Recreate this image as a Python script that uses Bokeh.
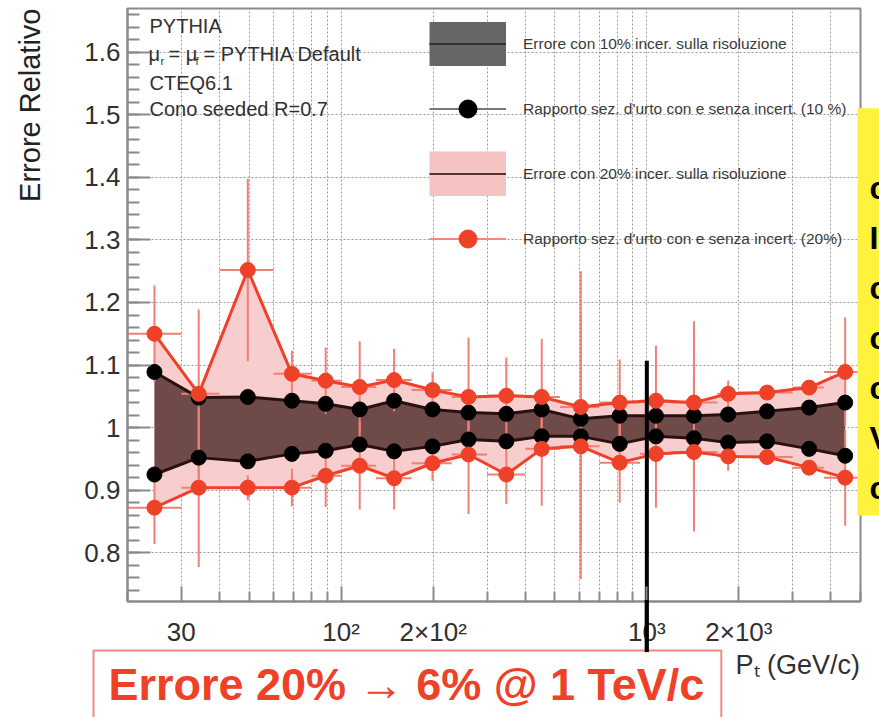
import numpy as np
from bokeh.plotting import figure
from bokeh.models import FixedTicker, Label, Legend, LegendItem, Title
from bokeh.embed import file_html
from bokeh.resources import INLINE

# ---------------- data ----------------
pt_edges = [20, 30, 40, 60, 80, 100, 130, 170, 230, 300, 400, 520, 700, 950,
            1200, 1700, 2000, 3000, 3800, 5000]
pt_centers = [24.5, 34.2, 49.5, 69, 89, 115, 149, 199, 261, 347, 453, 608, 815,
              1071, 1426, 1845, 2473, 3396, 4455]
blk_hi = [1.089, 1.048, 1.049, 1.043, 1.038, 1.029, 1.043, 1.029, 1.024, 1.022,
          1.029, 1.014, 1.019, 1.019, 1.019, 1.021, 1.026, 1.032, 1.040]
blk_lo = [0.925, 0.952, 0.946, 0.958, 0.963, 0.973, 0.962, 0.970, 0.981, 0.978,
          0.986, 0.986, 0.974, 0.986, 0.983, 0.976, 0.978, 0.966, 0.955]
red_hi = [1.150, 1.054, 1.252, 1.086, 1.075, 1.065, 1.076, 1.060, 1.049, 1.051,
          1.049, 1.033, 1.040, 1.043, 1.040, 1.054, 1.056, 1.064, 1.089]
red_lo = [0.872, 0.904, 0.904, 0.904, 0.923, 0.939, 0.919, 0.943, 0.957, 0.925,
          0.966, 0.970, 0.944, 0.958, 0.961, 0.954, 0.953, 0.936, 0.920]
red_hi_err = [0.077, 0.135, 0.146, 0.037, 0.053, 0.073, 0.050, 0.028, 0.095, 0.061,
              0.093, 0.217, 0.069, 0.088, 0.130, 0.021, 0.010, 0.010, 0.087]
red_lo_err = [0.058, 0.127, 0.020, 0.030, 0.050, 0.070, 0.050, 0.028, 0.095, 0.047,
              0.091, 0.212, 0.064, 0.086, 0.127, 0.023, 0.010, 0.010, 0.077]

x_major = [30, 100, 200, 1000, 2000]
x_labels = {30: "30", 100: "10\u00b2", 200: "2\u00d710\u00b2", 1000: "10\u00b3", 2000: "2\u00d710\u00b3"}
x_minor = [20, 40, 50, 60, 70, 80, 90, 300, 400, 500, 600, 700, 800, 900, 3000, 4000, 5000]
y_major = [0.8, 0.9, 1.0, 1.1, 1.2, 1.3, 1.4, 1.5, 1.6]
y_labels = {0.8: "0.8", 0.9: "0.9", 1.0: "1", 1.1: "1.1", 1.2: "1.2", 1.3: "1.3",
            1.4: "1.4", 1.5: "1.5", 1.6: "1.6"}
X_LO, X_HI = 20, 5000
Y_LO, Y_HI = 0.722, 1.67

marker_pt = 1000      # vertical marker at 1 TeV/c
marker_top = 1.107

legend_labels = ["Errore con 10% incer. sulla risoluzione",
                 "Rapporto sez. d'urto con e senza incert. (10 %)",
                 "Errore con 20% incer. sulla risoluzione",
                 "Rapporto sez. d'urto con e senza incert. (20%)"]

y_title = "Errore Relativo"
x_title = "P\u209c (GeV/c)"
info_lines = ["PYTHIA", "CTEQ6.1", "Cono seeded R=0.7"]
box_text = "Errore 20% \u2192 6% @ 1 TeV/c"
side_letters = ["c", "I", "c", "c", "c", "V", "c"]   # cut-off text of the yellow note

# ---------------- styles ----------------
FONT = "Liberation Sans"
RED = "#ee4128"
RED_ERR = "#f27f76"
PINK = "#f8cdcd"
DARK_BAND = "#6e4a48"
DARK_LINE = "#2a1010"
GRID = "#9a9a9a"
AXIS = "#8a8a8a"
TXT = "#303030"
NBSP = "\u00a0"

W, H = 879, 717
BL, BR, BT, BB = 127, 19, 8, 116
FW = W - BL - BR

p = figure(width=W, height=H, x_axis_type="log",
           x_range=(X_LO, X_HI), y_range=(Y_LO, Y_HI),
           output_backend="svg", toolbar_location=None,
           min_border_left=BL, min_border_right=BR,
           min_border_top=BT, min_border_bottom=BB)
p.outline_line_color = AXIS
p.outline_line_width = 2
p.background_fill_color = "white"

# axes
p.xaxis.ticker = FixedTicker(ticks=x_major, minor_ticks=x_minor)
p.xaxis.major_label_overrides = x_labels
p.yaxis.ticker = FixedTicker(ticks=y_major, minor_ticks=list(np.round(np.arange(0.72, 1.67, 0.02), 2)))
p.yaxis.major_label_overrides = y_labels
for ax in (p.xaxis, p.yaxis):
    ax.axis_line_color = AXIS
    ax.axis_line_width = 2
    ax.major_tick_line_color = AXIS
    ax.minor_tick_line_color = AXIS
    ax.major_tick_line_width = 2
    ax.minor_tick_line_width = 2
    ax.major_tick_out = 0
    ax.minor_tick_out = 0
    ax.major_label_text_font = FONT
    ax.major_label_text_font_size = "26px"
    ax.major_label_text_color = TXT
p.xaxis.major_tick_in = 15
p.xaxis.minor_tick_in = 10
p.yaxis.major_tick_in = 23
p.yaxis.minor_tick_in = 12
p.xaxis.major_label_standoff = 15
p.yaxis.major_label_standoff = 7
# x title, pushed to the right end of the axis with non-breaking spaces
p.xaxis.axis_label = NBSP * 81 + x_title
p.xaxis.axis_label_standoff = 0
p.xaxis.axis_label_text_font = FONT
p.xaxis.axis_label_text_font_size = "27px"
p.xaxis.axis_label_text_font_style = "normal"
p.xaxis.axis_label_text_color = TXT

# grids
p.xgrid.ticker = p.xaxis.ticker
p.ygrid.ticker = p.yaxis.ticker
p.xgrid.grid_line_color = GRID
p.xgrid.grid_line_dash = "2 2"
p.xgrid.minor_grid_line_color = GRID
p.xgrid.minor_grid_line_dash = "2 2"
p.ygrid.grid_line_color = GRID
p.ygrid.grid_line_dash = "2 2"
p.ygrid.minor_grid_line_color = None

# ---------------- data glyphs ----------------
p.varea(x=pt_centers, y1=red_lo, y2=red_hi, fill_color=PINK)
p.varea(x=pt_centers, y1=blk_lo, y2=blk_hi, fill_color=DARK_BAND)

hi = np.array(red_hi); lo = np.array(red_lo)
ehi = np.array(red_hi_err); elo = np.array(red_lo_err)
p.segment(x0=pt_centers, y0=hi - ehi, x1=pt_centers, y1=hi + ehi, line_color=RED_ERR, line_width=2)
p.segment(x0=pt_centers, y0=lo - elo, x1=pt_centers, y1=lo + elo, line_color=RED_ERR, line_width=2)
p.segment(x0=pt_edges[:-1], y0=red_hi, x1=pt_edges[1:], y1=red_hi, line_color=RED_ERR, line_width=2)
p.segment(x0=pt_edges[:-1], y0=red_lo, x1=pt_edges[1:], y1=red_lo, line_color=RED_ERR, line_width=2)

p.line(pt_centers, blk_hi, line_color=DARK_LINE, line_width=3)
p.line(pt_centers, blk_lo, line_color=DARK_LINE, line_width=3)
p.line(pt_centers, red_hi, line_color=RED, line_width=3)
p.line(pt_centers, red_lo, line_color=RED, line_width=3)
blk_pts = p.scatter(pt_centers, blk_hi, size=15, fill_color="black", line_color="black")
p.scatter(pt_centers, blk_lo, size=15, fill_color="black", line_color="black")
red_pts = p.scatter(pt_centers, red_hi, size=15, fill_color=RED, line_color=RED)
p.scatter(pt_centers, red_lo, size=15, fill_color=RED, line_color=RED)

# vertical marker at 1 TeV/c (part inside the frame)
p.segment(x0=[marker_pt], y0=[marker_top], x1=[marker_pt], y1=[Y_LO - 0.1], line_color="black", line_width=4)

# ---------------- legend (legend-only renderers, outside the visible range) ----------------
off_x, off_y = [1, 2], [0, 0]
lg_box10 = p.line(off_x, off_y, line_color="#666666", line_width=44, line_cap="butt")
lg_mid10 = p.line(off_x, off_y, line_color="#333333", line_width=2)
lg_err10 = p.line(off_x, off_y, line_color="#777777", line_width=2)
lg_box20 = p.line(off_x, off_y, line_color="#f6c3c3", line_width=45, line_cap="butt")
lg_mid20 = p.line(off_x, off_y, line_color="#553333", line_width=2)
lg_err20 = p.line(off_x, off_y, line_color="#f7857a", line_width=2)
legend = Legend(items=[
    LegendItem(label=legend_labels[0], renderers=[lg_box10, lg_mid10]),
    LegendItem(label=legend_labels[1], renderers=[lg_err10, blk_pts]),
    LegendItem(label=legend_labels[2], renderers=[lg_box20, lg_mid20]),
    LegendItem(label=legend_labels[3], renderers=[lg_err20, red_pts]),
], location=(302, 340), glyph_width=77, glyph_height=45, spacing=20,
    label_standoff=17, padding=0, margin=0,
    background_fill_alpha=0, border_line_color=None,
    label_text_font=FONT, label_text_font_size="15.5px", label_text_color="#3a3a3a")
p.add_layout(legend, "center")

# ---------------- texts inside the frame ----------------
def frame_x(X):
    return X - BL

def frame_y(Y):
    return (H - BB) - Y

def lab(text, X, Y, size, color=TXT, style="normal", align="left", baseline="middle"):
    p.add_layout(Label(x=frame_x(X), y=frame_y(Y), x_units="screen", y_units="screen",
                       text=text, text_font=FONT, text_font_size=size,
                       text_color=color, text_font_style=style, text_align=align,
                       text_baseline=baseline))

lab(info_lines[0], 149, 25, "20px")
lab("\u03bc", 148, 53, "20px")
lab("r", 160, 60, "11px")
lab("= \u03bc", 168, 53, "20px")
lab("f", 195, 60, "11px")
lab("=  PYTHIA Default", 203, 53, "20px")
lab(info_lines[1], 149, 82, "20px")
lab(info_lines[2], 149, 108, "20px")

# ---------------- side-panel items (not clipped by the frame) ----------------
def title(**kw):
    so = kw.pop("standoff", 0)
    try:
        return Title(standoff=so, **kw)
    except Exception:
        return Title(standoff=max(so, 0), **kw)

# y axis title, top-aligned, pushed outwards by an empty spacer
spacer = title(text=" ", text_font_size="1px", standoff=33)
ytitle = title(text=y_title, align="right", vertical_align="bottom", offset=0, standoff=0,
               text_font=FONT, text_font_size="29px", text_font_style="normal", text_color="#222222")
p.left = list(p.left) + [spacer, ytitle]

# red-bordered comment box (pulled up under the axis with a negative standoff)
red_box = title(text=box_text, align="left", offset=-34, vertical_align="top", standoff=-64,
                text_font=FONT, text_font_size="45px", text_font_style="bold", text_color=RED,
                background_fill_color="white", border_line_color="#f08a84", border_line_width=2,
                padding=dict(left=15, right=17, top=8, bottom=10))
# marker continuation below the frame (thin black box), pulled up to the frame edge
frac = (np.log10(marker_pt) - np.log10(X_LO)) / (np.log10(X_HI) - np.log10(X_LO))
marker_below = title(text=" ", text_font_size="1px", align="left", offset=FW * frac - 2.2,
                     vertical_align="top", standoff=-179, background_fill_color="black",
                     border_line_color=None, padding=dict(left=2, right=2, top=0, bottom=51))
p.below = list(p.below) + [red_box, marker_below]

# yellow note at the right edge: its cut-off letters on a yellow background box
letters = title(text="\n".join(side_letters), align="left", offset=857 - BL, vertical_align="bottom",
                standoff=-1014, text_font=FONT, text_font_size="32px", text_font_style="bold",
                text_color="black", text_line_height=1.39,
                background_fill_color="#fff23c", border_line_color=None,
                padding=dict(left=12, right=20, top=62, bottom=9))
p.add_layout(letters, "above")

open("out.html", "w").write(file_html(p, INLINE))
